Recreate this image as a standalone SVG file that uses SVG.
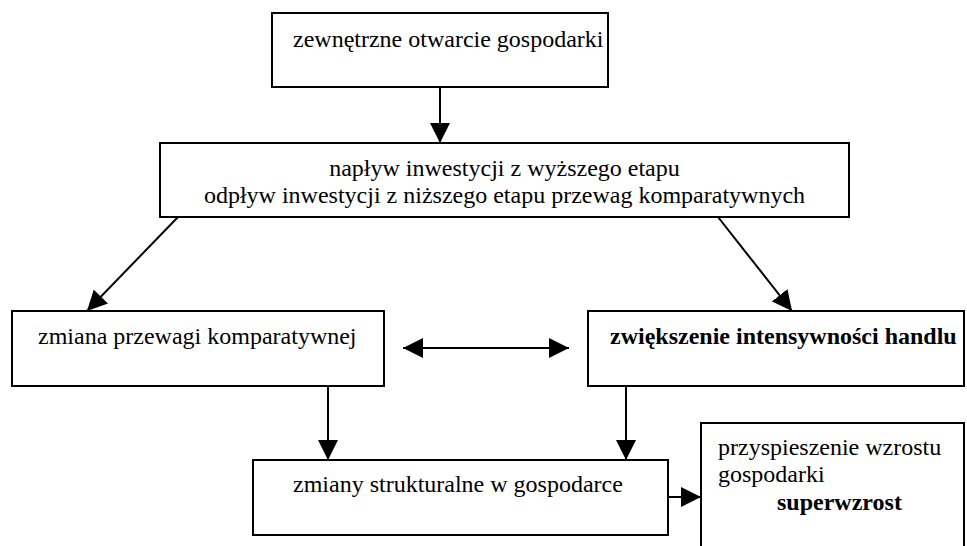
<svg xmlns="http://www.w3.org/2000/svg" width="967" height="546" viewBox="0 0 967 546">
<style>
.box{fill:#fff;stroke:#000;stroke-width:2}
.t{font-family:"Liberation Serif","Times New Roman",serif;font-size:24px;fill:#000}
.b{font-weight:bold}
.c{stroke:#000;stroke-width:2;fill:none}
</style>
<defs>
<marker id="ah" viewBox="0 0 20 20" refX="20" refY="10" markerWidth="20" markerHeight="20" markerUnits="userSpaceOnUse" orient="auto-start-reverse">
<path d="M0,0 L20,10 L0,20 Z" fill="#000"/>
</marker>
</defs>
<rect width="967" height="546" fill="#fff"/>
<g id="n1"><rect class="box" x="272" y="13" width="336" height="74"/><text class="t" x="293" y="47">zewnętrzne otwarcie gospodarki</text></g>
<g id="n2"><rect class="box" x="160" y="143" width="689" height="74"/><text class="t" x="504.5" y="176" text-anchor="middle">napływ inwestycji z wyższego etapu</text><text class="t" x="504.5" y="203" text-anchor="middle">odpływ inwestycji z niższego etapu przewag komparatywnych</text></g>
<g id="n3"><rect class="box" x="12" y="311" width="372" height="75"/><text class="t" x="38" y="344">zmiana przewagi komparatywnej</text></g>
<g id="n4"><rect class="box" x="588" y="311" width="376" height="75"/><text class="t b" x="610" y="344">zwiększenie intensywności handlu</text></g>
<g id="n5"><rect class="box" x="253" y="460" width="415" height="75"/><text class="t" x="293" y="492">zmiany strukturalne w gospodarce</text></g>
<g id="n6"><rect class="box" x="701" y="423" width="263" height="130"/><text class="t" x="718" y="455">przyspieszenie wzrostu</text><text class="t" x="718" y="482">gospodarki</text><text class="t b" x="777" y="510">superwzrost</text></g>
<g id="connectors">
<line class="c" x1="440" y1="87" x2="440" y2="143" marker-end="url(#ah)"/>
<line class="c" x1="178" y1="217" x2="87" y2="311" marker-end="url(#ah)"/>
<line class="c" x1="718" y1="217" x2="792" y2="311" marker-end="url(#ah)"/>
<line class="c" x1="403" y1="348" x2="569" y2="348" marker-start="url(#ah)" marker-end="url(#ah)"/>
<line class="c" x1="328" y1="386" x2="328" y2="460" marker-end="url(#ah)"/>
<line class="c" x1="626" y1="386" x2="626" y2="460" marker-end="url(#ah)"/>
<line class="c" x1="668" y1="497" x2="701" y2="497" marker-end="url(#ah)"/>
</g>
</svg>
